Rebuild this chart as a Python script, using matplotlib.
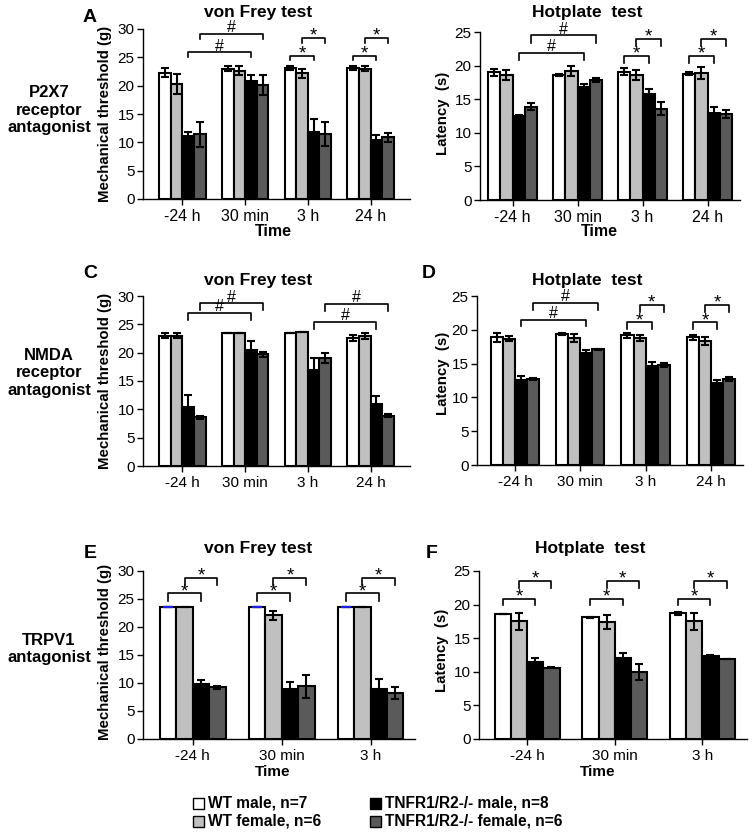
import matplotlib
matplotlib.use("Agg")
import matplotlib.pyplot as plt
from matplotlib.patches import Rectangle
import numpy as np

plt.rcParams['font.family'] = ['Liberation Sans', 'DejaVu Sans']

# ---------------- data ----------------
times4 = ["-24 h", "30 min", "3 h", "24 h"]
times3 = ["-24 h", "30 min", "3 h"]
series_names = ["WT male, n=7", "WT female, n=6",
                "TNFR1/R2-/- male, n=8", "TNFR1/R2-/- female, n=6"]
series_colors = ["#ffffff", "#c0c0c0", "#000000", "#5a5a5a"]

# A: von Frey, P2X7 antagonist
A_wt_male = [22.3, 23.0, 23.1, 23.1]
A_wt_male_err = [0.8, 0.4, 0.4, 0.4]
A_wt_female = [20.3, 22.6, 22.2, 23.0]
A_wt_female_err = [1.8, 0.8, 0.8, 0.4]
A_ko_male = [11.2, 20.8, 11.8, 10.5]
A_ko_male_err = [0.7, 1.0, 2.3, 0.8]
A_ko_female = [11.4, 20.1, 11.5, 10.9]
A_ko_female_err = [2.2, 1.7, 2.1, 0.8]

# B: Hotplate, P2X7 antagonist
B_wt_male = [19.0, 18.6, 19.1, 18.8]
B_wt_male_err = [0.5, 0.2, 0.5, 0.2]
B_wt_female = [18.6, 19.2, 18.6, 18.9]
B_wt_female_err = [0.8, 0.8, 0.8, 0.9]
B_ko_male = [12.5, 16.8, 15.7, 12.9]
B_ko_male_err = [0.2, 0.4, 0.8, 1.0]
B_ko_female = [13.9, 17.8, 13.6, 12.8]
B_ko_female_err = [0.5, 0.3, 1.0, 0.6]

# C: von Frey, NMDA antagonist
C_wt_male = [23.0, 23.5, 23.5, 22.6]
C_wt_male_err = [0.4, 0.0, 0.0, 0.5]
C_wt_female = [23.0, 23.5, 23.6, 22.9]
C_wt_female_err = [0.4, 0.0, 0.0, 0.5]
C_ko_male = [10.5, 20.5, 17.0, 11.0]
C_ko_male_err = [2.0, 1.5, 2.1, 1.4]
C_ko_female = [8.6, 19.7, 19.0, 8.9]
C_ko_female_err = [0.3, 0.5, 0.9, 0.2]

# D: Hotplate, NMDA antagonist
D_wt_male = [18.9, 19.4, 19.2, 18.9]
D_wt_male_err = [0.7, 0.2, 0.4, 0.4]
D_wt_female = [18.7, 18.8, 18.8, 18.4]
D_wt_female_err = [0.4, 0.6, 0.5, 0.6]
D_ko_male = [12.6, 16.5, 14.7, 12.2]
D_ko_male_err = [0.5, 0.5, 0.5, 0.4]
D_ko_female = [12.7, 17.1, 14.8, 12.7]
D_ko_female_err = [0.1, 0.1, 0.3, 0.3]

# E: von Frey, TRPV1 antagonist
E_wt_male = [23.5, 23.5, 23.5]
E_wt_male_err = [0.0, 0.0, 0.0]
E_wt_female = [23.5, 22.1, 23.5]
E_wt_female_err = [0.0, 0.8, 0.0]
E_ko_male = [9.8, 9.0, 9.0]
E_ko_male_err = [0.7, 1.2, 1.7]
E_ko_female = [9.2, 9.4, 8.2]
E_ko_female_err = [0.3, 2.0, 1.0]

# F: Hotplate, TRPV1 antagonist
F_wt_male = [18.6, 18.1, 18.7]
F_wt_male_err = [0.05, 0.1, 0.2]
F_wt_female = [17.5, 17.4, 17.5]
F_wt_female_err = [1.3, 1.0, 1.3]
F_ko_male = [11.4, 12.1, 12.4]
F_ko_male_err = [0.6, 0.7, 0.1]
F_ko_female = [10.6, 10.0, 11.9]
F_ko_female_err = [0.05, 1.2, 0.05]

# significance brackets: (group1, series1, group2, series2, height, label)
A_brackets = [(0, 2, 1, 2, 25.9, "#"), (0, 3, 1, 3, 29.1, "#"),
              (2, 0, 2, 2, 25.3, "*"), (2, 1, 2, 3, 28.4, "*"),
              (3, 0, 3, 2, 25.3, "*"), (3, 1, 3, 3, 28.4, "*")]
B_brackets = [(0, 2, 1, 2, 21.9, "#"), (0, 3, 1, 3, 24.5, "#"),
              (2, 0, 2, 2, 21.5, "*"), (2, 1, 2, 3, 24.0, "*"),
              (3, 0, 3, 2, 21.5, "*"), (3, 1, 3, 3, 24.0, "*")]
C_brackets = [(0, 2, 1, 2, 27.0, "#"), (0, 3, 1, 3, 28.7, "#"),
              (2, 2, 3, 2, 25.4, "#"), (2, 3, 3, 3, 28.6, "#")]
D_brackets = [(0, 2, 1, 2, 21.5, "#"), (0, 3, 1, 3, 24.0, "#"),
              (2, 0, 2, 2, 21.1, "*"), (2, 1, 2, 3, 23.7, "*"),
              (3, 0, 3, 2, 21.1, "*"), (3, 1, 3, 3, 23.7, "*")]
E_brackets = [(g, s, g, s + 2, h, "*") for g in range(3)
              for s, h in ((0, 26.0), (1, 28.8))]
F_brackets = [(g, s, g, s + 2, h, "*") for g in range(3)
              for s, h in ((0, 20.9), (1, 23.5))]

# ---------------- figure ----------------
W, H = 754, 836
fig = plt.figure(figsize=(W / 100, H / 100), dpi=100)
NARROW = ['Liberation Sans Narrow', 'Liberation Sans']


def px_ax(l, t, r, b):
    return fig.add_axes([l / W, 1 - b / H, (r - l) / W, (b - t) / H])


def ftext(x, y, s, **kw):
    fig.text(x / W, 1 - y / H, s, **kw)


BW = 0.185


def draw_panel(ax, labels, means, errs, ymax, ystep, xlim, brackets, drop,
               narrow=False, blue_top=False):
    n = len(labels)
    x = np.arange(n)
    offs = (np.arange(4) - 1.5) * BW
    for i in range(4):
        ax.bar(x + offs[i], means[i], BW, color=series_colors[i],
               edgecolor="black", linewidth=1.5, zorder=2)
        ax.errorbar(x + offs[i], means[i], yerr=errs[i], fmt="none",
                    ecolor="black", elinewidth=1.5, capsize=2.6,
                    capthick=1.5, zorder=3)
    if blue_top:
        for g in range(n):
            ax.hlines(means[0][g], x[g] + offs[0] - BW * 0.3,
                      x[g] + offs[0] + BW * 0.3, color="#2020e0",
                      linewidth=1.6, zorder=4)
    for g1, s1, g2, s2, h, lab in brackets:
        x1 = x[g1] + offs[s1]
        x2 = x[g2] + offs[s2]
        ax.plot([x1, x1, x2, x2], [h - drop, h, h, h - drop], color="black",
                linewidth=1.2, clip_on=False, zorder=4)
        if lab == "*":
            ax.annotate(lab, ((x1 + x2) / 2, h), xytext=(0, -2.0),
                        textcoords="offset points", ha="center",
                        va="baseline", fontsize=13.5, annotation_clip=False)
        else:
            ax.annotate(lab, ((x1 + x2) / 2, h), xytext=(0, 1.2),
                        textcoords="offset points", ha="center",
                        va="baseline", fontsize=11.5, annotation_clip=False)
    ax.set_xlim(*xlim)
    ax.set_ylim(0, ymax)
    ax.set_yticks(np.arange(0, ymax + 0.1, ystep))
    ax.set_xticks(x)
    if narrow:
        ax.set_xticklabels(labels, fontsize=11.5, family=NARROW)
    else:
        ax.set_xticklabels(labels, fontsize=11)
    ax.tick_params(axis="y", labelsize=11, direction="out", length=4,
                   width=1.0, pad=2)
    ax.tick_params(axis="x", direction="out", length=4, width=1.0, pad=3)
    for sp in ("top", "right"):
        ax.spines[sp].set_visible(False)
    for sp in ("left", "bottom"):
        ax.spines[sp].set_linewidth(1.0)


axA = px_ax(143, 29, 410, 199)
draw_panel(axA, times4,
           [A_wt_male, A_wt_female, A_ko_male, A_ko_female],
           [A_wt_male_err, A_wt_female_err, A_ko_male_err, A_ko_female_err],
           30, 5, (-0.63, 3.63), A_brackets, 0.85, narrow=True)

axB = px_ax(480, 32, 740, 200)
draw_panel(axB, times4,
           [B_wt_male, B_wt_female, B_ko_male, B_ko_female],
           [B_wt_male_err, B_wt_female_err, B_ko_male_err, B_ko_female_err],
           25, 5, (-0.5, 3.5), B_brackets, 1.1, narrow=True)

axC = px_ax(143, 296, 410, 466)
draw_panel(axC, times4,
           [C_wt_male, C_wt_female, C_ko_male, C_ko_female],
           [C_wt_male_err, C_wt_female_err, C_ko_male_err, C_ko_female_err],
           30, 5, (-0.63, 3.63), C_brackets, 1.2)

axD = px_ax(477, 296, 743, 465)
draw_panel(axD, times4,
           [D_wt_male, D_wt_female, D_ko_male, D_ko_female],
           [D_wt_male_err, D_wt_female_err, D_ko_male_err, D_ko_female_err],
           25, 5, (-0.58, 3.49), D_brackets, 1.0)

axE = px_ax(143, 571, 415, 739)
draw_panel(axE, times3,
           [E_wt_male, E_wt_female, E_ko_male, E_ko_female],
           [E_wt_male_err, E_wt_female_err, E_ko_male_err, E_ko_female_err],
           30, 5, (-0.56, 2.5), E_brackets, 1.3, blue_top=True)

axF = px_ax(479, 571, 747, 739)
draw_panel(axF, times3,
           [F_wt_male, F_wt_female, F_ko_male, F_ko_female],
           [F_wt_male_err, F_wt_female_err, F_ko_male_err, F_ko_female_err],
           25, 5, (-0.55, 2.51), F_brackets, 1.0)

# titles
for x, y, s in [(258, 13, "von Frey test"), (587, 13, "Hotplate  test"),
                (258, 280, "von Frey test"), (587, 280, "Hotplate  test"),
                (258, 548, "von Frey test"), (590, 548, "Hotplate  test")]:
    ftext(x, y, s, ha="center", va="center", fontsize=12.5, fontweight="bold")

# panel letters
for x, y, s in [(90, 17, "A"), (90, 274, "C"), (429, 273, "D"),
                (90, 554, "E"), (432, 554, "F")]:
    ftext(x, y, s, ha="center", va="center", fontsize=14, fontweight="bold")

# y labels
for x, y, s in [(105, 114, "Mechanical threshold (g)"),
                (105, 381, "Mechanical threshold (g)"),
                (105, 652, "Mechanical threshold (g)"),
                (443, 113, "Latency  (s)"), (443, 373, "Latency  (s)"),
                (442, 650, "Latency  (s)")]:
    ftext(x, y, s, ha="center", va="center", rotation=90, fontsize=10.8,
          fontweight="bold")

# row labels
for y, s in [(110, "P2X7\nreceptor\nantagonist"),
             (373, "NMDA\nreceptor\nantagonist"),
             (649, "TRPV1\nantagonist")]:
    ftext(49, y, s, ha="center", va="center", fontsize=12,
          fontweight="bold", linespacing=1.2)

# x labels "Time"
ftext(273, 231, "Time", ha="center", va="center", fontsize=11.5,
      fontweight="bold", family=NARROW)
ftext(599, 231, "Time", ha="center", va="center", fontsize=11.5,
      fontweight="bold", family=NARROW)
ftext(273, 772, "Time", ha="center", va="center", fontsize=11,
      fontweight="bold")
ftext(598, 772, "Time", ha="center", va="center", fontsize=11,
      fontweight="bold")

# legend
leg_pos = [(193, 803), (193, 821), (370, 803), (370, 821)]
for (x, y), name, col in zip(leg_pos, series_names, series_colors):
    fig.add_artist(Rectangle((x / W, 1 - (y + 5.5) / H), 11 / W, 11 / H,
                             facecolor=col, edgecolor="black", linewidth=1.0,
                             transform=fig.transFigure))
    ftext(x + 15, y, name, ha="left", va="center", fontsize=11.2,
          fontweight="bold")

fig.savefig("out.png", dpi=100)
